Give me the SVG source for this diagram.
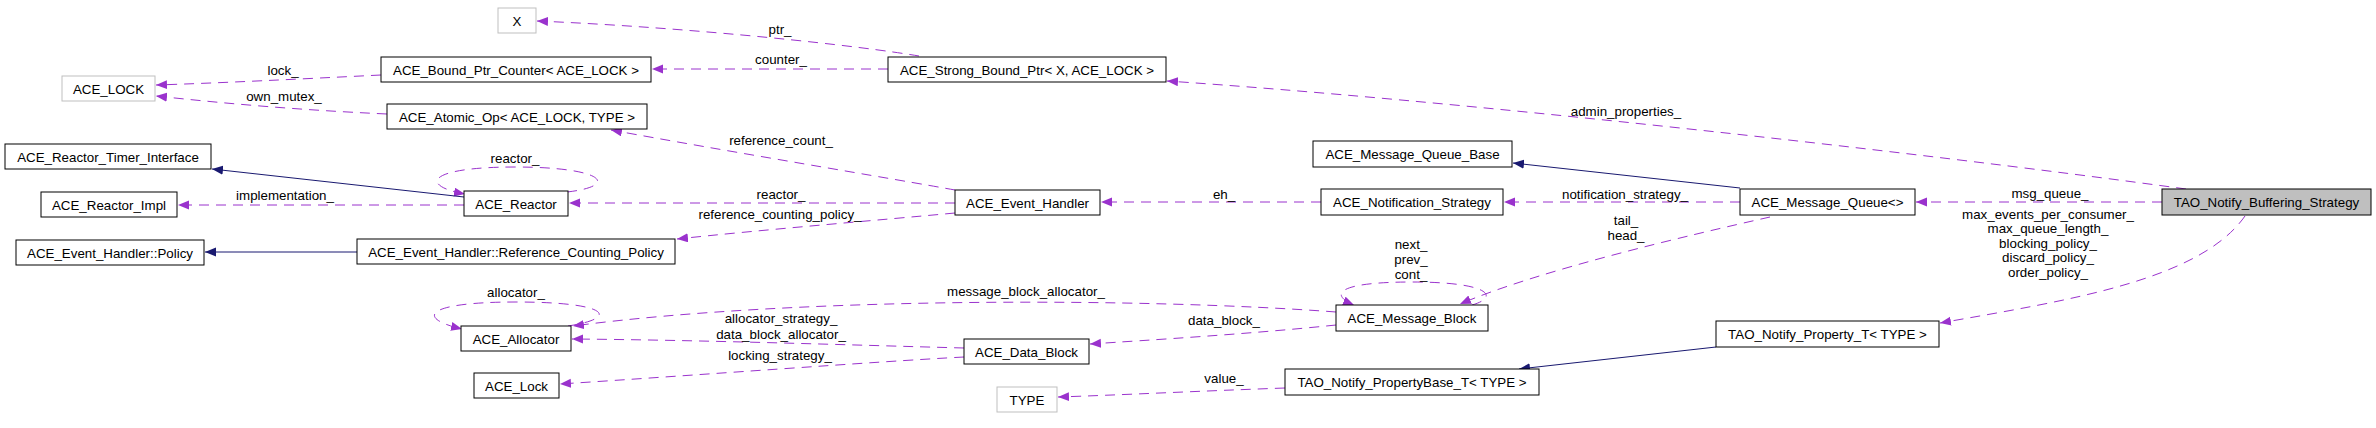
<svg xmlns="http://www.w3.org/2000/svg" width="2376" height="428" viewBox="0 0 2376 428">
<style>
  text { font-family: "Liberation Sans", Arial, sans-serif; font-size: 13.33px; fill: #000; }
  .n rect { fill: #fff; stroke: #000; stroke-width: 1; }
  .n.g rect { stroke: #bfbfbf; }
  .n.f rect { fill: #bfbfbf; stroke: #000; }
  .n text { text-anchor: middle; }
  .e { fill: none; stroke: #9a32cd; stroke-width: 1; stroke-dasharray: 10,7; marker-end: url(#ap); }
  .i { fill: none; stroke: #191970; stroke-width: 1; marker-end: url(#an); }
  .l { text-anchor: middle; }
</style>
<defs>
  <marker id="ap" markerWidth="12" markerHeight="10" refX="11" refY="4.5" orient="auto" markerUnits="userSpaceOnUse">
    <path d="M0,0 L11,4.5 L0,9 z" fill="#9a32cd" stroke="none"/>
  </marker>
  <marker id="an" markerWidth="12" markerHeight="10" refX="11" refY="4.5" orient="auto" markerUnits="userSpaceOnUse">
    <path d="M0,0 L11,4.5 L0,9 z" fill="#191970" stroke="none"/>
  </marker>
</defs>
<rect width="2376" height="428" fill="#fff"/>

<g id="connectors">
  <path class="e" d="M919,56 C860,46 700,28 537,21"/>
  <text class="l" x="780" y="34">ptr_</text>
  <path class="e" d="M888,69 L652,69"/>
  <text class="l" x="781" y="64">counter_</text>
  <path class="e" d="M381,75 C300,79 220,83 156,85"/>
  <text class="l" x="283" y="75">lock_</text>
  <path class="e" d="M387,114 C300,110 230,104 156,96"/>
  <text class="l" x="284" y="101">own_mutex_</text>
  <path class="e" d="M955,190 C900,180 720,150 611,130"/>
  <text class="l" x="781" y="145">reference_count_</text>
  <path class="e" d="M955,203 L569,203"/>
  <text class="l" x="781" y="199">reactor_</text>
  <path class="e" d="M955,213 C880,220 760,230 677,239"/>
  <text class="l" x="780" y="219">reference_counting_policy_</text>
  <path class="e" d="M567,192 C620,186 605,167 515,167 C425,167 420,186 465,194"/>
  <text class="l" x="515" y="163">reactor_</text>
  <path class="e" d="M464,205 L178,205"/>
  <text class="l" x="285" y="200">implementation_</text>
  <path class="i" d="M464,197 L212,169"/>
  <path class="i" d="M357,252 L205,252"/>
  <path class="e" d="M1321,202 L1101,202"/>
  <text class="l" x="1224" y="199">eh_</text>
  <path class="i" d="M1740,188 L1513,163"/>
  <path class="e" d="M1740,202 L1504,202"/>
  <text class="l" x="1625" y="199">notification_strategy_</text>
  <path class="e" d="M2162,202 L1916,202"/>
  <text class="l" x="2050" y="198">msg_queue_</text>
  <path class="e" d="M2186,189 C1900,150 1450,100 1167,81"/>
  <text class="l" x="1626" y="116">admin_properties_</text>
  <path class="e" d="M1770,217 C1690,235 1540,270 1460,304"/>
  <text class="l" x="1626" y="225">tail_</text>
  <text class="l" x="1626" y="240">head_</text>
  <path class="e" d="M1472,305 C1500,297 1490,282 1412,282 C1335,282 1330,295 1354,305"/>
  <text class="l" x="1411" y="249">next_</text>
  <text class="l" x="1411" y="264">prev_</text>
  <text class="l" x="1411" y="279">cont_</text>
  <path class="e" d="M1336,312 C1150,298 800,296 573,326"/>
  <text class="l" x="1026" y="296">message_block_allocator_</text>
  <path class="e" d="M568,326 C620,318 610,302 516,302 C425,302 415,318 462,329"/>
  <text class="l" x="516" y="297">allocator_</text>
  <path class="e" d="M964,348 C850,345 700,340 572,339"/>
  <text class="l" x="781" y="323">allocator_strategy_</text>
  <text class="l" x="781" y="339">data_block_allocator_</text>
  <path class="e" d="M964,357 C870,362 700,375 560,384"/>
  <text class="l" x="780" y="360">locking_strategy_</text>
  <path class="e" d="M1336,325 C1250,334 1150,340 1090,344"/>
  <text class="l" x="1224" y="325">data_block_</text>
  <path class="e" d="M1285,388 C1200,391 1120,395 1058,397"/>
  <text class="l" x="1224" y="383">value_</text>
  <path class="i" d="M1716,347 L1519,369"/>
  <path class="e" d="M2245,216 C2200,280 2070,300 1940,323"/>
  <text class="l" x="2048" y="219">max_events_per_consumer_</text>
  <text class="l" x="2048" y="233">max_queue_length_</text>
  <text class="l" x="2048" y="248">blocking_policy_</text>
  <text class="l" x="2048" y="262">discard_policy_</text>
  <text class="l" x="2048" y="277">order_policy_</text>
</g>

<g id="X" class="n g"><rect x="498" y="8" width="38" height="25"/><text x="517" y="25.5">X</text></g>
<g id="ACE_Bound_Ptr_Counter" class="n"><rect x="381" y="57" width="270" height="25"/><text x="516" y="74.5">ACE_Bound_Ptr_Counter&lt; ACE_LOCK &gt;</text></g>
<g id="ACE_LOCK" class="n g"><rect x="62" y="76" width="93" height="25"/><text x="108.5" y="93.5">ACE_LOCK</text></g>
<g id="ACE_Atomic_Op" class="n"><rect x="387" y="104" width="260" height="25"/><text x="517" y="121.5">ACE_Atomic_Op&lt; ACE_LOCK, TYPE &gt;</text></g>
<g id="ACE_Reactor_Timer_Interface" class="n"><rect x="5" y="144" width="206" height="25"/><text x="108" y="161.5">ACE_Reactor_Timer_Interface</text></g>
<g id="ACE_Reactor_Impl" class="n"><rect x="41" y="192" width="136" height="25"/><text x="109" y="209.5">ACE_Reactor_Impl</text></g>
<g id="ACE_Reactor" class="n"><rect x="464" y="191" width="104" height="25"/><text x="516" y="208.5">ACE_Reactor</text></g>
<g id="ACE_Event_Handler_Policy" class="n"><rect x="16" y="240" width="188" height="25"/><text x="110" y="257.5">ACE_Event_Handler::Policy</text></g>
<g id="ACE_Event_Handler_Reference_Counting_Policy" class="n"><rect x="357" y="239" width="318" height="25"/><text x="516" y="256.5">ACE_Event_Handler::Reference_Counting_Policy</text></g>
<g id="ACE_Allocator" class="n"><rect x="461" y="326" width="110" height="25"/><text x="516" y="343.5">ACE_Allocator</text></g>
<g id="ACE_Lock" class="n"><rect x="474" y="373" width="85" height="25"/><text x="516.5" y="390.5">ACE_Lock</text></g>
<g id="ACE_Strong_Bound_Ptr" class="n"><rect x="888" y="57" width="278" height="25"/><text x="1027" y="74.5">ACE_Strong_Bound_Ptr&lt; X, ACE_LOCK &gt;</text></g>
<g id="ACE_Message_Queue_Base" class="n"><rect x="1313" y="141" width="199" height="26"/><text x="1412.5" y="159">ACE_Message_Queue_Base</text></g>
<g id="ACE_Event_Handler" class="n"><rect x="955" y="190" width="145" height="25"/><text x="1027.5" y="207.5">ACE_Event_Handler</text></g>
<g id="ACE_Notification_Strategy" class="n"><rect x="1321" y="189" width="182" height="26"/><text x="1412" y="207">ACE_Notification_Strategy</text></g>
<g id="ACE_Message_Block" class="n"><rect x="1336" y="305" width="152" height="26"/><text x="1412" y="323">ACE_Message_Block</text></g>
<g id="ACE_Data_Block" class="n"><rect x="964" y="339" width="125" height="25"/><text x="1026.5" y="356.5">ACE_Data_Block</text></g>
<g id="TYPE" class="n g"><rect x="997" y="387" width="60" height="25"/><text x="1027" y="404.5">TYPE</text></g>
<g id="TAO_Notify_PropertyBase_T" class="n"><rect x="1285" y="369" width="254" height="26"/><text x="1412" y="387">TAO_Notify_PropertyBase_T&lt; TYPE &gt;</text></g>
<g id="ACE_Message_Queue" class="n"><rect x="1740" y="189" width="175" height="26"/><text x="1827.5" y="207">ACE_Message_Queue&lt;&gt;</text></g>
<g id="TAO_Notify_Buffering_Strategy" class="n f"><rect x="2162" y="189" width="209" height="26"/><text x="2266.5" y="207">TAO_Notify_Buffering_Strategy</text></g>
<g id="TAO_Notify_Property_T" class="n"><rect x="1716" y="321" width="223" height="26"/><text x="1827.5" y="339">TAO_Notify_Property_T&lt; TYPE &gt;</text></g>
</svg>
